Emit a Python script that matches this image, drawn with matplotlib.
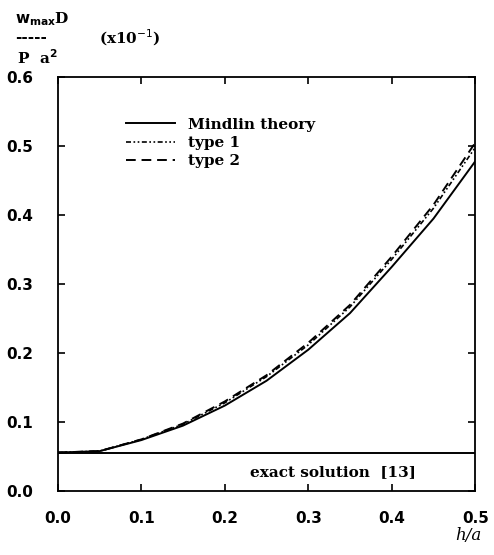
import matplotlib
matplotlib.use("Agg")
import matplotlib.pyplot as plt

# h/a values and normalised max deflection (x10^-1)
h_over_a = [0.0, 0.05, 0.1, 0.15, 0.2, 0.25, 0.3, 0.35, 0.4, 0.45, 0.5]
mindlin = [0.056, 0.058, 0.074, 0.095, 0.124, 0.160, 0.205, 0.258, 0.325, 0.395, 0.478]
type1 = [0.056, 0.058, 0.075, 0.097, 0.128, 0.166, 0.212, 0.267, 0.336, 0.410, 0.498]
type2 = [0.056, 0.058, 0.075, 0.098, 0.130, 0.168, 0.215, 0.270, 0.340, 0.415, 0.505]
exact = 0.056

x_ticks = [0.0, 0.1, 0.2, 0.3, 0.4, 0.5]
y_ticks = [0.0, 0.1, 0.2, 0.3, 0.4, 0.5, 0.6]

FONT = "DejaVu Serif"

fig = plt.figure(figsize=(4.94, 5.55), dpi=100)
ax = fig.add_axes([0.117, 0.115, 0.845, 0.746])

ax.plot(h_over_a, mindlin, color="black", lw=1.4, label="Mindlin theory")
ax.plot(h_over_a, type1, color="black", lw=1.2,
        linestyle=(0, (3, 1.5, 1, 1.5, 1, 1.5)), label="type 1")
ax.plot(h_over_a, type2, color="black", lw=1.4,
        linestyle=(0, (5, 3)), label="type 2")
ax.axhline(exact, color="black", lw=1.4)

ax.text(0.33, 0.028, "exact solution  [13]", ha="center", va="center",
        fontsize=11, fontweight="bold", family=FONT)

ax.set_xlim(0, 0.5)
ax.set_ylim(0, 0.6)
ax.set_xticks(x_ticks)
ax.set_yticks(y_ticks)
ax.set_xticklabels([f"{v:.1f}" for v in x_ticks])
ax.set_yticklabels([f"{v:.1f}" for v in y_ticks])
ax.tick_params(direction="in", top=True, right=True, length=5, width=1.2,
               labelsize=11, pad=14)
for lab in ax.get_xticklabels() + ax.get_yticklabels():
    lab.set_fontweight("bold")
    lab.set_family("DejaVu Sans")
ax.tick_params(axis="y", pad=18)
for s in ax.spines.values():
    s.set_linewidth(1.3)

leg = ax.legend(loc="upper left", bbox_to_anchor=(0.13, 0.935), frameon=False,
                handlelength=3.2, handletextpad=0.9, labelspacing=0.28,
                prop={"family": FONT, "weight": "bold", "size": 11})

# y-axis label as a fraction
fig.text(0.03, 0.965, r"$\mathbf{w_{max}}$D", fontsize=11, fontweight="bold",
         family=FONT, ha="left", va="center")
fig.text(0.03, 0.932, "-----", fontsize=11, fontweight="bold",
         family=FONT, ha="left", va="center")
fig.text(0.035, 0.897, r"P  a$^\mathbf{2}$", fontsize=11, fontweight="bold",
         family=FONT, ha="left", va="center")
fig.text(0.2, 0.932, r"(x10$^{-1}$)", fontsize=11, fontweight="bold",
         family=FONT, ha="left", va="center")

# x-axis label
fig.text(0.975, 0.02, "h/a", fontsize=12, fontstyle="italic",
         family=FONT, ha="right", va="bottom")

fig.savefig("out.png", dpi=100)
